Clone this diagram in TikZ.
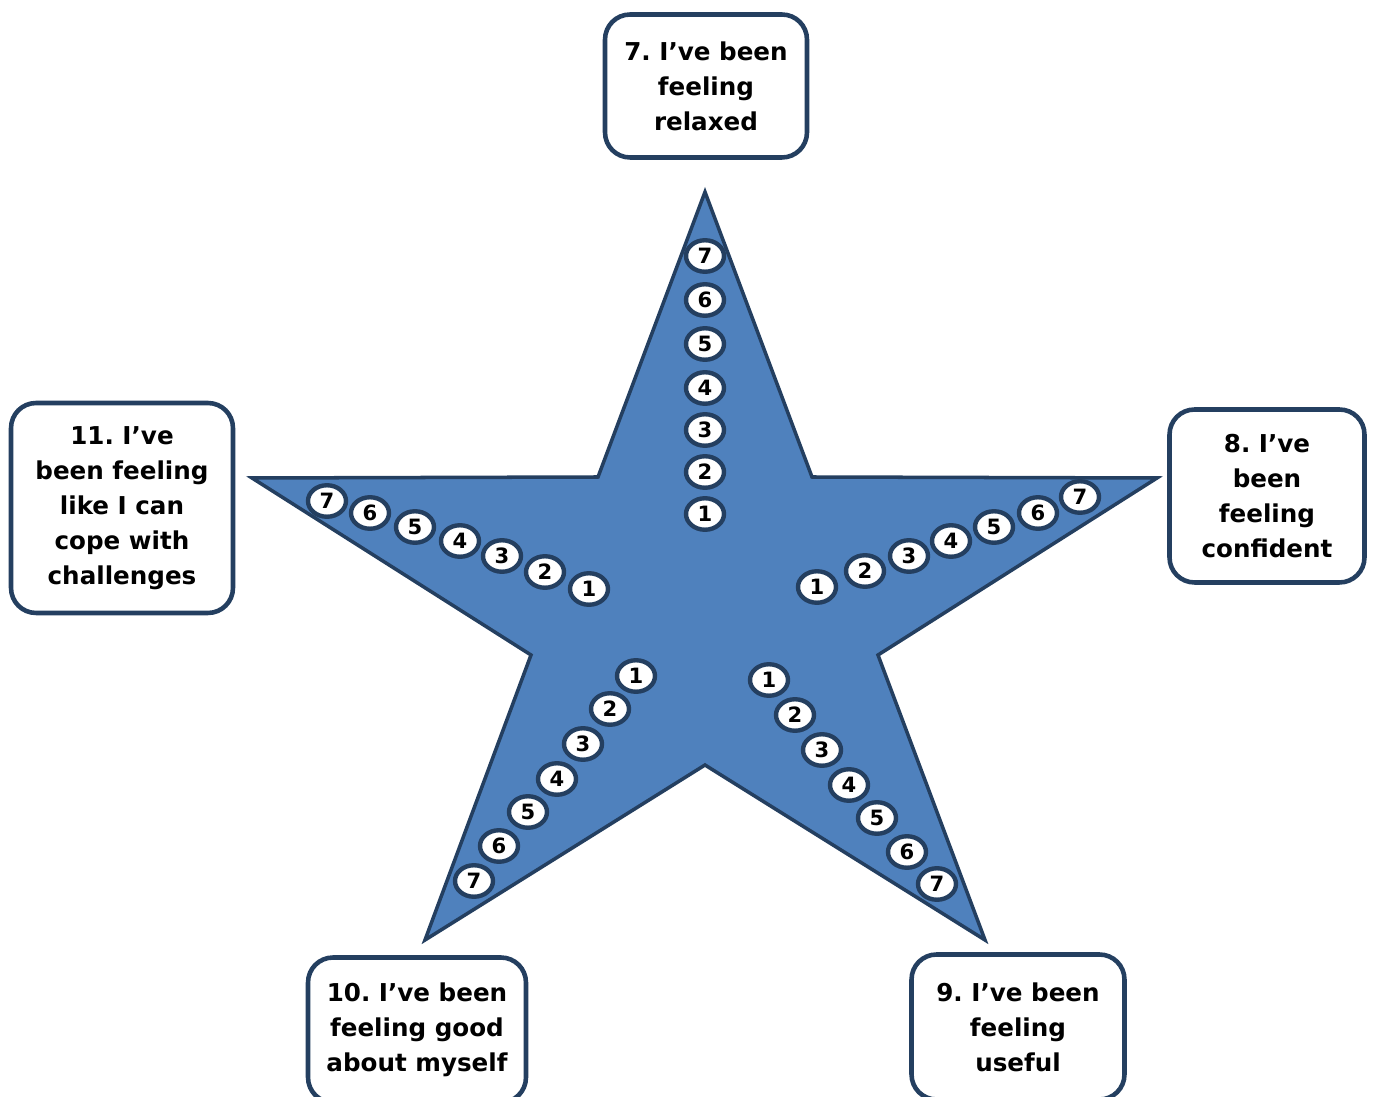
\documentclass[tikz,border=0pt]{standalone}
\usepackage{fontspec}
\setmainfont{DejaVu Sans}
\usepackage{tikz}
\usetikzlibrary{shapes.geometric}
\frenchspacing

\definecolor{starblue}{HTML}{4F81BD}
\definecolor{navy}{HTML}{243F60}

\begin{document}
\begin{tikzpicture}[
  x=0.02cm, y=-0.02cm,
  box/.style={draw=navy, line width=2.6pt, fill=white, rounded corners=0.5cm, align=center, font=\bfseries\fontsize{14}{19.9}\selectfont},
  dot/.style={ellipse, draw=navy, line width=2.5pt, fill=white, minimum width=0.76cm, minimum height=0.63cm, inner sep=0pt, font=\bfseries\fontsize{12}{12}\selectfont}
]
\useasboundingbox (0,0) rectangle (1374,1097);

% the star
\coordinate (top)  at (705,192);
\coordinate (itr)  at (812,477);
\coordinate (rgt)  at (1157,478);
\coordinate (ibr)  at (878,655);
\coordinate (bri)  at (985,940);
\coordinate (ibt)  at (705,765);
\coordinate (blf)  at (425,940);
\coordinate (ibl)  at (531,655);
\coordinate (lft)  at (252,478);
\coordinate (itl)  at (598,477);
\draw[navy, fill=starblue, line width=2pt, line join=miter]
  (top) -- (itr) -- (rgt) -- (ibr) -- (bri) -- (ibt) -- (blf) -- (ibl) -- (lft) -- (itl) -- cycle;

% top arm
\node[dot] (t7) at (705,256) {7};
\node[dot] (t6) at (705,300) {6};
\node[dot] (t5) at (705,344) {5};
\node[dot] (t4) at (705,388) {4};
\node[dot] (t3) at (705,430) {3};
\node[dot] (t2) at (705,472) {2};
\node[dot] (t1) at (705,514) {1};

% right arm
\node[dot] (r1) at (817,587) {1};
\node[dot] (r2) at (865,571) {2};
\node[dot] (r3) at (909,556) {3};
\node[dot] (r4) at (951,541) {4};
\node[dot] (r5) at (994,527) {5};
\node[dot] (r6) at (1038,513) {6};
\node[dot] (r7) at (1080,497) {7};

% left arm
\node[dot] (l7) at (327,501) {7};
\node[dot] (l6) at (370,513) {6};
\node[dot] (l5) at (415,527) {5};
\node[dot] (l4) at (460,541) {4};
\node[dot] (l3) at (502,556) {3};
\node[dot] (l2) at (545,572) {2};
\node[dot] (l1) at (589,589) {1};

% lower left arm
\node[dot] (bl1) at (636,676) {1};
\node[dot] (bl2) at (610,709) {2};
\node[dot] (bl3) at (583,744) {3};
\node[dot] (bl4) at (557,779) {4};
\node[dot] (bl5) at (528,812) {5};
\node[dot] (bl6) at (499,846) {6};
\node[dot] (bl7) at (474,881) {7};

% lower right arm
\node[dot] (br1) at (769,680) {1};
\node[dot] (br2) at (795,715) {2};
\node[dot] (br3) at (822,750) {3};
\node[dot] (br4) at (849,785) {4};
\node[dot] (br5) at (877,818) {5};
\node[dot] (br6) at (907,852) {6};
\node[dot] (br7) at (937,884) {7};

% statements
\node[box, minimum width=4.04cm, minimum height=2.86cm] (relaxed)   at (706,86)   {7. I’ve been\\feeling\\relaxed};
\node[box, minimum width=3.9cm,  minimum height=3.46cm] (confident) at (1267,496) {8. I’ve\\been\\feeling\\confident};
\node[box, minimum width=4.44cm, minimum height=4.2cm]  (cope)      at (122,508)  {11. I’ve\\been feeling\\like I can\\cope with\\challenges};
\node[box, minimum width=4.36cm, minimum height=2.9cm]  (good)      at (417,1030) {10. I’ve been\\feeling good\\about myself};
\node[box, minimum width=4.26cm, minimum height=2.9cm]  (useful)    at (1018,1027) {9. I’ve been\\feeling\\useful};
\end{tikzpicture}
\end{document}
